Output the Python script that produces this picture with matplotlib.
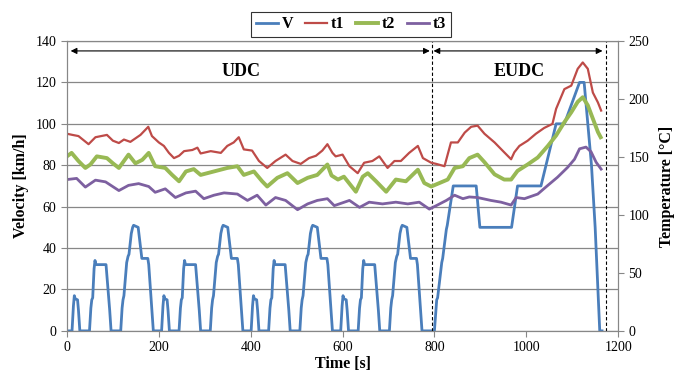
import numpy as np
import matplotlib
matplotlib.use("Agg")
import matplotlib.pyplot as plt

plt.rcParams['font.family'] = ['Liberation Serif', 'DejaVu Serif']

# one ECE-15 urban cycle (s, km/h), repeated 4 times in the UDC
ece_t = [0, 11, 14, 16, 18, 23, 25, 28, 49, 52, 54, 56, 59, 61, 63, 85, 93, 96,
         117, 120, 122, 124, 130, 133, 135, 140, 143, 145, 155, 163, 176, 178, 185, 188, 195]
ece_v = [0, 0, 12, 17, 15.5, 15, 10, 0, 0, 11, 15, 16, 30, 34, 32, 32, 10, 0,
         0, 11, 15, 17, 33, 36, 37, 47, 50, 51, 50, 35, 35, 32, 10, 0, 0]
ece_period = 195
ece_count = 4

# EUDC part
eudc_t = [780, 800, 805, 807, 816, 818, 826, 828, 841, 891, 899, 968, 981, 1032,
          1065, 1083, 1116, 1126, 1142, 1150, 1160, 1165]
eudc_v = [0, 0, 15, 16, 33, 35, 49, 51, 70, 70, 50, 50, 70, 70,
          100, 100, 120, 120, 80, 50, 0, 0]

# temperatures [°C]
t1_t = [0, 12, 25, 47, 62, 87, 100, 113, 124, 138, 160, 177, 185, 200, 211, 222, 233, 244,
        255, 273, 284, 291, 313, 335, 349, 363, 374, 385, 403, 418, 436, 454, 476, 491, 509,
        527, 542, 556, 567, 578, 585, 600, 615, 633, 647, 665, 680, 698, 713, 727, 745, 764,
        775, 793, 804, 822, 836, 851, 866, 880, 894, 909, 931, 952, 967, 974, 985, 1003,
        1021, 1039, 1057, 1065, 1083, 1098, 1112, 1123, 1134, 1145, 1156, 1163]
t1_v = [170, 169, 168, 161, 167, 169, 164, 162, 165, 163, 169, 176, 168, 162.5, 159.5, 153.5, 149, 151,
        155, 156, 158, 153, 155, 153.5, 159.5, 162.5, 167, 156.5, 155.5, 146.5, 140.5, 146.5, 152, 146.5, 144,
        149, 151, 155.5, 161, 153.5, 150.5, 152, 142, 136, 145, 146.5, 150.5, 140.5, 146.5, 146.5, 153.5, 159.5,
        149, 145, 144, 142, 162.5, 162.5, 171, 176, 177, 170, 162.5, 154, 148, 154, 159.5, 164,
        170, 175, 178.5, 191.5, 208.5, 211.5, 226, 231.5, 226, 205.5, 197, 190]

t2_t = [0, 10, 25, 40, 51, 65, 87, 100, 113, 134, 149, 164, 178, 192, 214, 229, 244, 259,
        276, 291, 320, 349, 371, 385, 407, 425, 436, 458, 480, 502, 524, 545, 567, 576, 590,
        603, 615, 629, 644, 655, 673, 695, 716, 738, 764, 778, 793, 811, 829, 844, 862, 876,
        894, 909, 931, 952, 967, 981, 1003, 1025, 1047, 1065, 1083, 1098, 1112, 1123, 1134,
        1145, 1156, 1162]
t2_v = [150.5, 153.5, 146.5, 140.5, 143.5, 150.5, 149, 144.5, 140.5, 152, 144.5, 147.5, 153.5, 142, 140.5, 134.5, 129, 137.5,
        139.5, 134.5, 137.5, 140.5, 142, 134.5, 137.5, 129, 124.5, 132, 136, 127.5, 132, 134.5, 143.5, 134, 130.5,
        133, 127, 120, 133, 136, 129, 120, 130.5, 129, 139, 127.5, 124.5, 127.5, 130.5, 140.5, 142, 149,
        152, 145.5, 135, 130.5, 130.5, 138, 143.5, 149.5, 159.5, 168.5, 180, 188.5, 197.5, 201.5, 194.5,
        183, 171.5, 167]

t3_t = [0, 21, 40, 62, 84, 113, 134, 156, 178, 192, 214, 236, 259, 280, 298, 320, 342, 371,
        393, 414, 433, 454, 476, 502, 524, 545, 567, 582, 593, 615, 637, 658, 687, 716, 742,
        767, 789, 804, 826, 844, 862, 876, 894, 923, 945, 967, 978, 996, 1025, 1047, 1068,
        1090, 1105, 1116, 1130, 1141, 1152, 1163]
t3_v = [130.5, 131.5, 124, 130, 128.5, 121, 125.5, 127, 124.5, 119.5, 122.5, 115, 119, 120.5, 114, 117, 119, 118,
        112.5, 117, 108.5, 115, 112.5, 104.5, 109.5, 112.5, 114, 108, 109.5, 112.5, 106.5, 111, 109.5, 111, 109.5,
        111, 105, 108, 112.5, 117, 114, 115.5, 115, 112.5, 111, 108.5, 115, 114, 118, 125.5, 132.5,
        141, 148, 157, 158.5, 154.5, 145.5, 139.5]

v_t = np.concatenate([np.array(ece_t) + ece_period * k for k in range(ece_count)] + [np.array(eudc_t)])
v_v = np.concatenate([np.array(ece_v)] * ece_count + [np.array(eudc_v)])

fig = plt.figure(figsize=(6.8, 3.76), dpi=100)
ax = fig.add_axes([0.0985, 0.12, 0.8105, 0.771])
ax2 = ax.twinx()

grey = '#878787'
lv, = ax.plot(v_t, v_v, color='#4A7EBB', lw=2.0, label='V')
l1, = ax2.plot(t1_t, t1_v, color='#BE4B48', lw=1.6, label='t1')
l2, = ax2.plot(t2_t, t2_v, color='#98B954', lw=2.8, label='t2')
l3, = ax2.plot(t3_t, t3_v, color='#7D60A0', lw=2.0, label='t3')

ax.set_xlim(0, 1200)
ax.set_ylim(0, 140)
ax2.set_ylim(0, 250)
ax.set_xticks(range(0, 1201, 200))
ax.set_yticks(range(0, 141, 20))
ax2.set_yticks(range(0, 251, 50))
ax.yaxis.grid(True, color=grey, lw=0.9)
ax.set_axisbelow(True)

for a in (ax, ax2):
    for s in a.spines.values():
        s.set_color(grey)
    a.tick_params(colors='black', labelsize=10, direction='out', length=4, width=0.8)
    a.tick_params(axis='both', color=grey)

ax.set_xlabel('Time [s]', fontsize=11.5, fontweight='bold', labelpad=1)
ax.set_ylabel('Velocity [km/h]', fontsize=11.5, fontweight='bold', labelpad=5)
ax2.set_ylabel('Temperature [°C]', fontsize=11.5, fontweight='bold', rotation=90, labelpad=7)

# section markers
for xd in (795, 1173):
    ax.axvline(xd, ymin=0, ymax=1, color='black', ls=(0, (3, 2)), lw=0.8)
arrow = dict(arrowstyle='<|-|>', color='black', lw=0.8, mutation_scale=9, shrinkA=0, shrinkB=0)
ax.annotate('', xy=(8, 135.2), xytext=(790, 135.2), arrowprops=arrow)
ax.annotate('', xy=(798, 135.2), xytext=(1166, 135.2), arrowprops=arrow)
ax.text(380, 125.5, 'UDC', ha='center', va='center', fontsize=13, fontweight='bold')
ax.text(985, 125.5, 'EUDC', ha='center', va='center', fontsize=13, fontweight='bold')

leg = fig.legend(handles=[lv, l1, l2, l3], loc='center', bbox_to_anchor=(0.516, 0.935), ncol=4,
                 prop={'weight': 'bold', 'size': 11.5}, frameon=True, fancybox=False,
                 handlelength=1.4, handletextpad=0.25, columnspacing=0.7, borderpad=0.3,
                 borderaxespad=0)
leg.get_frame().set_edgecolor('black')
leg.get_frame().set_linewidth(0.8)

fig.savefig('out.png', dpi=100)
